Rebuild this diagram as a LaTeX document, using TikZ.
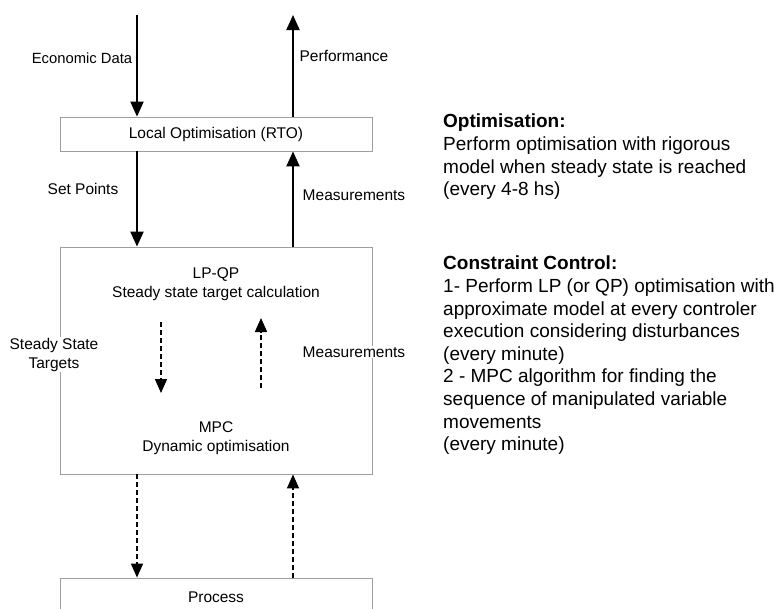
\documentclass[tikz,border=0pt]{standalone}
\usepackage{fontspec}
\setmainfont{Liberation Sans}
\usetikzlibrary{arrows.meta}
\tikzset{
  box/.style={draw=gray!75,line width=0.8pt,minimum width=312pt,inner sep=0pt},
  lbl/.style={font=\fontsize{15.5}{19}\selectfont,align=center,inner sep=1pt},
  flow/.style={line width=2pt,-{Triangle[width=13pt,length=15pt]}},
  dflow/.style={line width=1.5pt,dash pattern=on 5pt off 3pt,-{Triangle[width=12pt,length=14pt]}},
  note/.style={font=\fontsize{19}{22.6}\selectfont,align=left,anchor=north west,inner sep=0pt}
}
\begin{document}
\begin{tikzpicture}[x=1pt,y=-1pt]
  \path[use as bounding box] (0,0) rectangle (774,608);
  \clip (0,0) rectangle (774,608);
  % boxes
  \node[box,minimum height=34pt,lbl] (rto) at (216,134) {Local Optimisation (RTO)};
  \node[box,minimum height=227pt] (mpc) at (216,360.5) {};
  \node[box,minimum height=38pt,lbl] (proc) at (216,597) {Process};
  \node[lbl] (lpqp) at (216,284) {LP-QP\\Steady state target calculation};
  \node[lbl] (dyn) at (216,438) {MPC\\Dynamic optimisation};
  % arrow columns
  \coordinate (econ) at (137,15);
  \coordinate (perf) at (293,15);
  \draw[flow] (econ) -- (econ |- rto.north);
  \draw[flow] (perf |- rto.north) -- (perf);
  \draw[flow] (econ |- rto.south) -- (econ |- mpc.north);
  \draw[flow] (perf |- mpc.north) -- (perf |- rto.south);
  \draw[dflow] (econ |- mpc.south) -- (econ |- proc.north);
  \draw[dflow] (perf |- proc.north) -- (perf |- mpc.south);
  % inside the controller
  \coordinate (sstop) at (161,322);
  \coordinate (ssbot) at (161,393);
  \coordinate (mstop) at (261,318);
  \coordinate (msbot) at (261,388);
  \draw[dflow] (sstop) -- (ssbot);
  \draw[dflow] (msbot) -- (mstop);
  % labels
  \node[lbl,font=\fontsize{14.8}{19}\selectfont] (econlbl) at (82,58) {Economic Data};
  \node[lbl] (perflbl) at (344,56) {Performance};
  \node[lbl] (splbl) at (83,189) {Set Points};
  \node[lbl] (meas1) at (354,195) {Measurements};
  \node[lbl,fill=white] (sstlbl) at (54,354.5) {Steady State\\Targets};
  \node[lbl,fill=white] (meas2) at (354,352) {Measurements};
  % notes
  \node[note] (optnote) at (443,114) {\textbf{Optimisation:}\\Perform optimisation with rigorous\\model when steady state is reached\\(every 4-8 hs)};
  \node[note] (ccnote) at (443,256) {\textbf{Constraint Control:}\\1- Perform LP (or QP) optimisation with\\approximate model at every controler\\execution considering disturbances\\(every minute)\\2 - MPC algorithm for finding the\\sequence of manipulated variable\\movements\\(every minute)};
\end{tikzpicture}
\end{document}
